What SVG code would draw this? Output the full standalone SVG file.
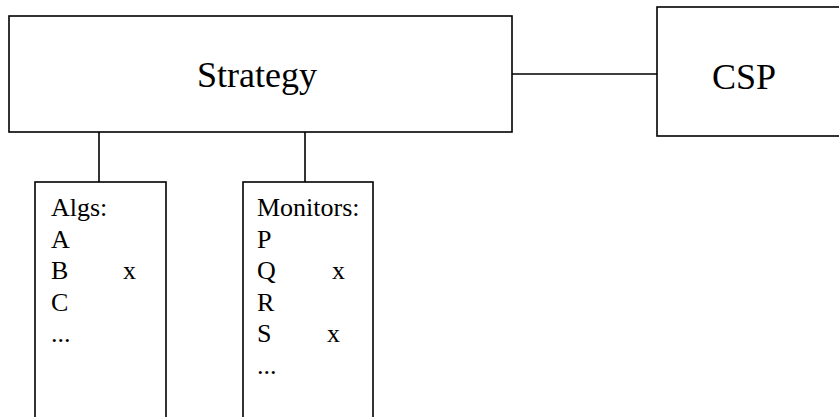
<svg xmlns="http://www.w3.org/2000/svg" width="839" height="417" viewBox="0 0 839 417">
<style>
.box{fill:#fff;stroke:#000;stroke-width:1.6}
.ln{stroke:#000;stroke-width:1.6;fill:none}
text{font-family:"Liberation Serif","Times New Roman",serif;fill:#000}
.big{font-size:36px}
.sm{font-size:26px}
</style>
<rect width="839" height="417" fill="#fff"/>
<g id="connectors">
<line class="ln" x1="512" y1="74" x2="657" y2="74"/>
<line class="ln" x1="99" y1="132" x2="99" y2="182"/>
<line class="ln" x1="305" y1="132" x2="305" y2="182"/>
</g>
<g id="strategy">
<rect class="box" x="9" y="16" width="503" height="116"/>
<text class="big" x="197" y="87">Strategy</text>
</g>
<g id="csp">
<rect class="box" x="657" y="7" width="200" height="129"/>
<text class="big" x="712" y="89">CSP</text>
</g>
<g id="algs">
<rect class="box" x="35" y="182" width="131" height="250"/>
<text class="sm" x="51" y="216">Algs:</text>
<text class="sm" x="51" y="248">A</text>
<text class="sm" x="51" y="279">B</text>
<text class="sm" x="123" y="279">x</text>
<text class="sm" x="51" y="311">C</text>
<text class="sm" x="51" y="342">...</text>
</g>
<g id="monitors">
<rect class="box" x="243" y="182" width="130" height="250"/>
<text class="sm" x="257" y="216">Monitors:</text>
<text class="sm" x="257" y="248">P</text>
<text class="sm" x="257" y="279">Q</text>
<text class="sm" x="332" y="279">x</text>
<text class="sm" x="257" y="311">R</text>
<text class="sm" x="257" y="342">S</text>
<text class="sm" x="327" y="342">x</text>
<text class="sm" x="257" y="374">...</text>
</g>
</svg>
